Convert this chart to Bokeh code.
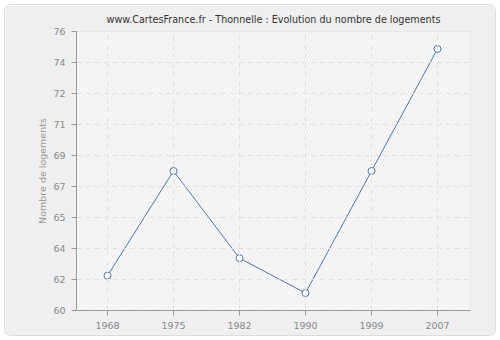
from bokeh.plotting import figure
from bokeh.models import FixedTicker, BoxAnnotation, Range1d
from bokeh.embed import file_html
from bokeh.resources import INLINE

years = ["1968", "1975", "1982", "1990", "1999", "2007"]
logements = [62, 68, 63, 61, 68, 75]
y_min, y_max = 60, 76
y_tick_count = 10

x_idx = list(range(len(years)))
y_ticks = [y_min + (y_max - y_min) * i / (y_tick_count - 1) for i in range(y_tick_count)]

FONT = "DejaVu Sans"

p = figure(width=490, height=330, output_backend="svg", toolbar_location=None,
           x_range=Range1d(-0.47, 5.5), y_range=Range1d(y_min, y_max),
           min_border_left=71, min_border_right=25, min_border_top=26, min_border_bottom=25,
           title="www.CartesFrance.fr - Thonnelle : Evolution du nombre de logements")
p.margin = (5, 5, 5, 5)
p.styles = {"border-radius": "6px", "overflow": "hidden", "box-shadow": "0 0 0 1px #dcdcdc"}
p.border_fill_color = "#efefef"
p.background_fill_color = "#f8f8f8"
p.outline_line_color = "#e2e2e2"

p.title.align = "center"
p.title.vertical_align = "top"
p.title.text_font = FONT
p.title.text_font_size = "9.6px"
p.title.text_font_style = "normal"
p.title.text_color = "#333333"
p.title.standoff = 10

frame_bg = BoxAnnotation(fill_color="#f8f8f8", fill_alpha=1, line_color=None,
                         hatch_pattern="/", hatch_color="#e6e6e6", hatch_scale=6,
                         hatch_weight=0.7, level="underlay")
p.add_layout(frame_bg)

p.xaxis.ticker = FixedTicker(ticks=x_idx)
p.xaxis.major_label_overrides = {i: y for i, y in zip(x_idx, years)}
p.yaxis.ticker = FixedTicker(ticks=y_ticks)
p.yaxis.major_label_overrides = {t: str(int(round(t))) for t in y_ticks}

for ax in (p.xaxis[0], p.yaxis[0]):
    ax.axis_line_color = "#999999"
    ax.major_tick_line_color = "#999999"
    ax.major_tick_out = 5
    ax.major_tick_in = 0
    ax.minor_tick_line_color = None
    ax.major_label_text_font = FONT
    ax.major_label_text_font_size = "9.5px"
    ax.major_label_text_color = "#888888"
    ax.major_label_standoff = 6
p.yaxis.axis_label = "Nombre de logements"
p.yaxis.axis_label_text_font = FONT
p.yaxis.axis_label_text_font_size = "9.5px"
p.yaxis.axis_label_text_font_style = "normal"
p.yaxis.axis_label_text_color = "#999999"
p.yaxis.axis_label_standoff = 2

for g in (p.xgrid[0], p.ygrid[0]):
    g.grid_line_color = "#e2e2e2"
    g.grid_line_dash = "5 4"
    g.grid_line_width = 1
    g.level = "glyph"
p.xgrid.ticker = FixedTicker(ticks=x_idx)
p.ygrid.ticker = FixedTicker(ticks=y_ticks)

p.line(x_idx, logements, line_color="#4f76a8", line_width=1)
p.scatter(x_idx, logements, size=7, fill_color="white", line_color="#4f76a8", line_width=1)

open("out.html", "w").write(file_html(p, INLINE))
